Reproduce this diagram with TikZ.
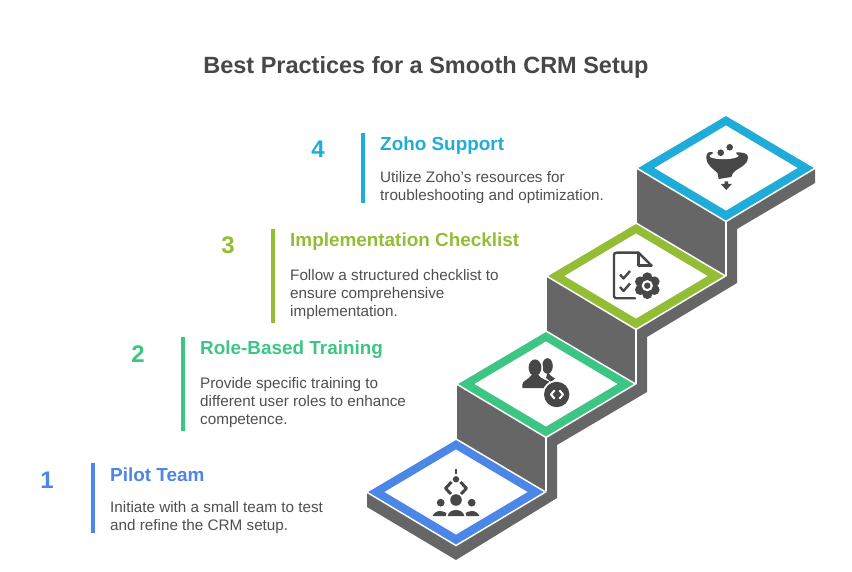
\documentclass[tikz,border=0pt]{standalone}
\usepackage{fontspec}
\usepackage{xcolor}
\setmainfont{Liberation Sans}
\definecolor{stepblue}{HTML}{4C86E6}
\definecolor{stepgreen}{HTML}{3CC583}
\definecolor{steplime}{HTML}{93BD35}
\definecolor{stepsky}{HTML}{1FACD9}
\definecolor{stairgray}{HTML}{666666}
\definecolor{icongray}{HTML}{474747}
\definecolor{bodygray}{HTML}{4F4F4F}
\tikzset{
  heading/.style={anchor=base west,inner sep=0pt,font=\fontsize{18.9}{20}\selectfont\bfseries},
  stepnum/.style={anchor=base,inner sep=0pt,font=\fontsize{24}{26}\selectfont\bfseries},
  bodytext/.style={anchor=north west,inner sep=0pt,align=left,text=bodygray,font=\fontsize{15.25}{18.2}\selectfont},
  iconline/.style={draw=icongray,line width=2.4pt,line cap=round,line join=round}
}
\begin{document}
\begin{tikzpicture}[x=1pt,y=-1pt]
\useasboundingbox (0,0) rectangle (852,572);

\node[anchor=base,inner sep=0pt,text=icongray,font=\fontsize{23.5}{26}\selectfont\bfseries] (title) at (426,73.5) {Best Practices for a Smooth CRM Setup};

\fill[stairgray] (367,492)--(367,507)--(456,560)--(557,498)--(557,445)--(647,392)--(647,337)--(737,283)--(737,229)--(815,183)--(815,167)--(726,115)--(637,167)--(637,223)--(547,276)--(547,331)--(457,384)--(457,440)--cycle;

\draw[white,line width=1.5pt] (546,437)--(546,491);
\draw[white,line width=1.5pt] (636,329)--(636,384);
\draw[white,line width=1.5pt] (726,221)--(726,276);

\foreach \cx/\cy/\col in {456/492/stepblue,546/384/stepgreen,636/276/steplime,726/168/stepsky}{
\begin{scope}[shift={(\cx,\cy)}]
\draw[white,line width=1.5pt,fill=\col] (-89.5,0)--(0,-53)--(89.5,0)--(0,53.5)--cycle;
\fill[white] (-71.5,0)--(0,-42.5)--(71.5,0)--(0,42.5)--cycle;
\end{scope}
}

% pilot team
\fill[icongray] (456,500) circle[radius=5.8];
\fill[icongray] (440.7,502.7) circle[radius=3.9];
\fill[icongray] (471.7,502.7) circle[radius=3.9];
\fill[icongray] (456,479.3) circle[radius=3.2];
\draw[icongray,line width=2.2pt] (456,468.5)--(456,474);
\draw[iconline,line width=3pt,line cap=butt] (451.5,482)--(445.5,488.3)--(451,494);
\draw[iconline,line width=3pt,line cap=butt] (460.5,482)--(466.5,488.3)--(461,494);
\fill[icongray] (447.6,516) .. controls (448.5,512) and (452,510) .. (456,510) .. controls (460,510) and (463.5,512) .. (464.4,516)--cycle;
\fill[icongray] (432.7,516) .. controls (433.5,513) and (437,511) .. (440,511) .. controls (442.5,511) and (444.5,512) .. (446.5,513) .. controls (446,514) and (445.8,515) .. (445.6,516)--cycle;
\fill[icongray] (479.3,516) .. controls (478.5,513) and (475,511) .. (472,511) .. controls (469.5,511) and (467.5,512) .. (465.5,513) .. controls (466,514) and (466.2,515) .. (466.4,516)--cycle;

% role training
\fill[icongray] (547.5,366) ellipse[x radius=5.3,y radius=7.8];
\fill[icongray] (548,371) .. controls (549,375) and (552,377) .. (555,378.5)--(550,383)--(546,378)--cycle;
\fill[white] (535,367.7) ellipse[x radius=8,y radius=10];
\fill[white] (533,374)--(541,374)--(553,384)--(553,389)--(540,389)--cycle;
\fill[icongray] (535,367.7) ellipse[x radius=6.4,y radius=8.3];
\fill[icongray] (522.3,388)--(522.3,384.5) .. controls (522.5,380.5) and (529,379.5) .. (531.5,375)--(538.5,375) .. controls (541,379.5) and (548,380) .. (551,383)--(546,388)--cycle;
\fill[white] (556.7,394.5) circle[radius=14.4];
\fill[icongray] (556.7,394.5) circle[radius=12.7];
\draw[white,line width=2pt,line join=round] (554.6,390.3)--(551,394.5)--(554.6,398.7);
\draw[white,line width=2pt,line join=round] (559.4,390.3)--(563,394.5)--(559.4,398.7);

% checklist
\draw[iconline] (635,298.3)--(616.5,298.3) .. controls (615,298.3) and (614,297.3) .. (614,296)--(614,255) .. controls (614,253.5) and (615,252.7) .. (616.5,252.7)--(638.5,252.7)--(651.5,265.5);
\draw[iconline] (638.5,252.7)--(638.5,265.5)--(651.5,265.5);
\draw[iconline,line cap=butt] (620,274.5)--(623.5,278.5)--(630,271);
\draw[iconline,line cap=butt] (620,287)--(623.5,291)--(630,283.5);
\foreach \ang in {30,90,150,210,270,330}{
\fill[icongray] (647.3,285.7) ++(\ang:8.2) circle[radius=5.2];
}
\fill[icongray] (647.3,285.7) circle[radius=9];
\fill[white] (647.3,285.7) circle[radius=5.6];
\fill[icongray] (647.3,285.7) circle[radius=3.2];

% funnel
\fill[icongray] (706.3,157) .. controls (706.3,153) and (709,151.5) .. (712,152)--(736,152.5) .. controls (741,152) and (748,153) .. (748,157) .. controls (748,166) and (737,168) .. (733,173)--(731.3,177)--(718.7,179)--(717.5,173) .. controls (714,169) and (706.3,166) .. (706.3,157)--cycle;
\fill[white] (713,150)--(736,150)--(736.5,154.3) .. controls (739,155) and (739.5,156) .. (737.5,157) .. controls (731,160) and (716,160) .. (709.8,157) .. controls (708.5,156) and (710,154.5) .. (712.5,154)--cycle;
\fill[icongray] (720.7,152.7) circle[radius=3.3];
\fill[icongray] (729.7,147.3) circle[radius=3.3];
\fill[icongray] (724.6,181.5)--(728,181.5)--(728,184)--(731.8,184)--(726.3,190)--(720.8,184)--(724.6,184)--cycle;

% step 1
\node[stepnum,text=stepblue] (num1) at (47,488) {1};
\fill[stepblue] (91,463) rectangle (95,533);
\node[heading,text=stepblue] (head1) at (110,481) {Pilot Team};
\node[bodytext] (body1) at (110,501) {Initiate with a small team to test\\and refine the CRM setup.};

% step 2
\node[stepnum,text=stepgreen] (num2) at (138,362) {2};
\fill[stepgreen] (181,337) rectangle (185,431);
\node[heading,text=stepgreen] (head2) at (200,355) {Role-Based Training};
\node[bodytext] (body2) at (200,377) {Provide specific training to\\different user roles to enhance\\competence.};

% step 3
\node[stepnum,text=steplime] (num3) at (228,254) {3};
\fill[steplime] (271,229) rectangle (275,323);
\node[heading,text=steplime] (head3) at (290,247) {Implementation Checklist};
\node[bodytext] (body3) at (290,269) {Follow a structured checklist to\\ensure comprehensive\\implementation.};

% step 4
\node[stepnum,text=stepsky] (num4) at (318,158) {4};
\fill[stepsky] (361,133) rectangle (365,203);
\node[heading,text=stepsky] (head4) at (380,151) {Zoho Support};
\node[bodytext] (body4) at (380,171) {Utilize Zoho's resources for\\troubleshooting and optimization.};
\end{tikzpicture}
\end{document}
